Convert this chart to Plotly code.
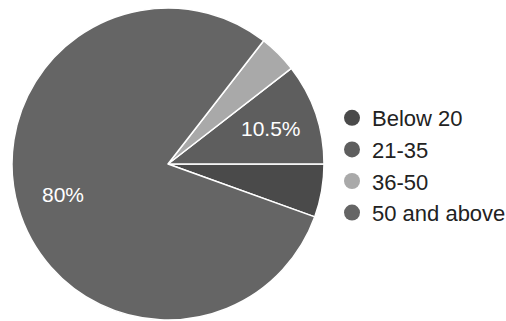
import math
import plotly.graph_objects as go

# Age groups and their share of respondents (percent)
age_groups = ["Below 20", "21-35", "36-50", "50 and above"]
shares = [5.5, 10.5, 4, 80]
slice_colors = ["#4a4a4a", "#5e5e5e", "#a9a9a9", "#656565"]
# Only the two larger slices carry a percent label
labelled = [False, True, False, True]

FONT = "Arial, Liberation Sans, sans-serif"
W, H = 506, 321

# Pie geometry in pixels (centre, radius); the first slice ends at 3 o'clock
CX, CY, R = 168, 164, 156
total = sum(shares)
START_DEG = -360 * shares[0] / total
LABEL_RADIUS = 0.7

fig = go.Figure()

fig.add_trace(go.Pie(
    labels=age_groups,
    values=shares,
    sort=False,
    direction="counterclockwise",
    rotation=90,
    marker=dict(colors=slice_colors, line=dict(color="white", width=1.5)),
    textinfo="none",
    showlegend=False,
    domain=dict(x=[(CX - R) / W, (CX + R) / W],
                y=[(H - CY - R) / H, (H - CY + R) / H]),
    hoverinfo="label+percent",
))

# Percent labels placed along each slice's bisector
angle = START_DEG
for value, show in zip(shares, labelled):
    sweep = 360 * value / total
    mid = math.radians(angle + sweep / 2)
    angle += sweep
    if not show:
        continue
    px = CX + LABEL_RADIUS * R * math.cos(mid)
    py = CY - LABEL_RADIUS * R * math.sin(mid)
    fig.add_annotation(
        x=px / W, y=1 - py / H, xref="paper", yref="paper",
        text=f"{value:g}%", showarrow=False,
        font=dict(color="white", size=21, family=FONT),
        xanchor="center", yanchor="middle",
    )

# Round legend markers, one entry per age group
for name, color in zip(age_groups, slice_colors):
    fig.add_trace(go.Scatter(
        x=[None], y=[None],
        mode="markers",
        marker=dict(symbol="circle", size=18, color=color),
        name=name,
        legendgroup=name,
        showlegend=True,
    ))

fig.update_layout(
    width=W, height=H,
    margin=dict(l=0, r=0, t=0, b=0, pad=0, autoexpand=False),
    paper_bgcolor="white",
    plot_bgcolor="white",
    xaxis=dict(visible=False),
    yaxis=dict(visible=False),
    legend=dict(
        x=332 / W, xanchor="left",
        y=1 - 97 / H, yanchor="top",
        font=dict(size=22, color="#222222", family=FONT),
        tracegroupgap=0,
        bgcolor="rgba(0,0,0,0)",
    ),
)

fig.write_html("out.html")
